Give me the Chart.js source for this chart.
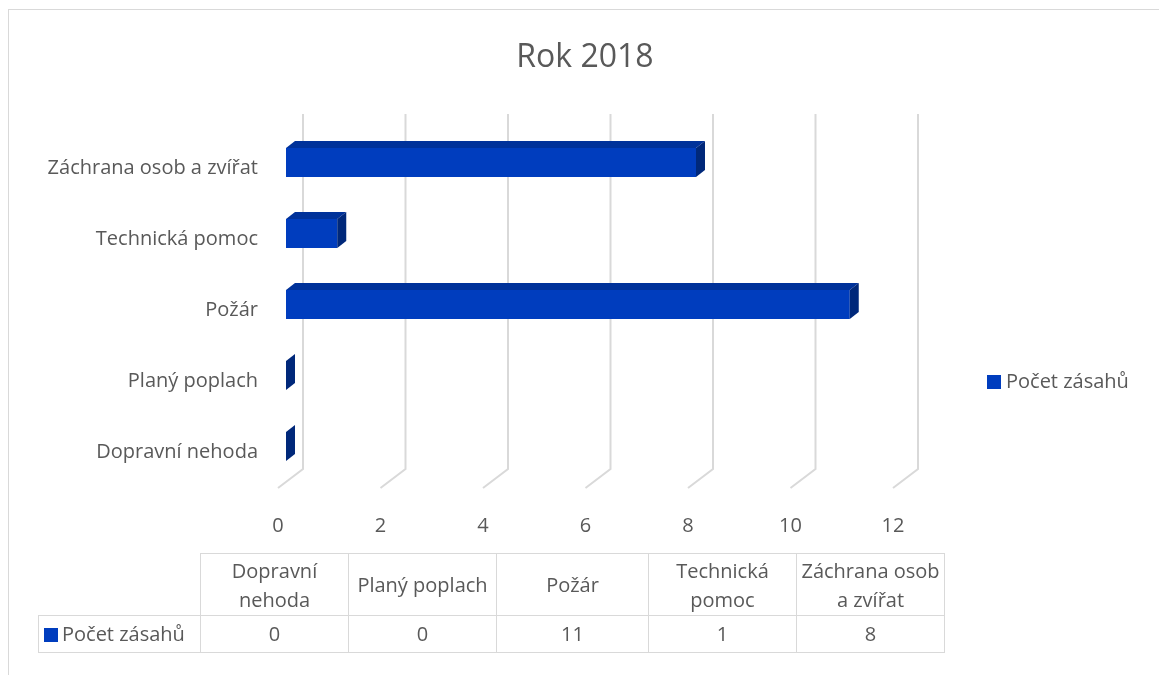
<!DOCTYPE html>
<html lang="cs">
<head>
<meta charset="UTF-8" />
<title>Rok 2018</title>
<script src="https://cdn.jsdelivr.net/npm/chart.js"></script>
<style>
  body { margin: 0; background: #fff; font-family: "Open Sans", sans-serif; color: #595959; }
  #wrap { position: relative; width: 1159px; height: 675px; overflow: hidden; }
  #frame { position: absolute; left: 8px; top: 9px; width: 1200px; height: 720px; border: 1px solid #d9d9d9; }
  #chart { position: absolute; left: 0; top: 0; }
  #title { position: absolute; left: 0; width: 1170px; top: 34px; text-align: center; font-size: 32px; line-height: 42px; }
  #legend { position: absolute; left: 987px; top: 367px; font-size: 20px; line-height: 28px; white-space: nowrap; }
  .box { display: inline-block; width: 14px; height: 14px; background: #003dbe; margin-right: 5px; vertical-align: -1px; }
  #table { position: absolute; left: 38px; top: 553px; border-collapse: collapse; table-layout: fixed; font-size: 20px; }
  #table td { border: 1px solid #d9d9d9; text-align: center; padding: 0 3px; }
  #table tr.head td { height: 61px; line-height: 29px; }
  #table tr.vals td { height: 36px; line-height: 28px; }
  #table td.empty { border-top: none; border-left: none; }
  #table td.name { text-align: left; padding-left: 5px; white-space: nowrap; }
  #table td.name .box { margin-right: 4px; }
</style>
</head>
<body>
<div id="wrap">
  <div id="frame"></div>
  <canvas id="chart" width="1159" height="675"></canvas>
  <div id="title"></div>
  <div id="legend"></div>
  <table id="table"></table>
</div>
<script>
  const title = "Rok 2018";
  const categories = ["Dopravní nehoda", "Planý poplach", "Požár", "Technická pomoc", "Záchrana osob a zvířat"];
  const seriesName = "Počet zásahů";
  const zasahy = [0, 0, 11, 1, 8];
  const xTicks = [0, 2, 4, 6, 8, 10, 12];

  const textColor = "#595959";
  const frontColor = "#003dbe";
  const topColor = "#00329a";
  const sideColor = "#00287a";

  // 3D look: gridlines go back into the depth, bars sit a bit behind the front plane
  const depth3d = {
    id: "depth3d",
    beforeDatasetsDraw(chart) {
      const { ctx, chartArea: a, scales: { x } } = chart;
      ctx.save();
      ctx.strokeStyle = "#d9d9d9";
      ctx.lineWidth = 2;
      x.ticks.forEach((t) => {
        const px = x.getPixelForValue(t.value);
        ctx.beginPath();
        ctx.moveTo(px, a.bottom);
        ctx.lineTo(px + 25, a.bottom - 19);
        ctx.lineTo(px + 25, a.top - 19);
        ctx.stroke();
      });
      ctx.restore();
      ctx.save();
      ctx.translate(8, -6);
    },
    afterDatasetsDraw(chart) {
      const { ctx } = chart;
      chart.getDatasetMeta(0).data.forEach((bar) => {
        const { x, y, base, height } = bar.getProps(["x", "y", "base", "height"], true);
        const top = y - height / 2;
        const bot = y + height / 2;
        ctx.fillStyle = topColor;
        ctx.beginPath();
        ctx.moveTo(base, top);
        ctx.lineTo(base + 9, top - 7);
        ctx.lineTo(x + 9, top - 7);
        ctx.lineTo(x, top);
        ctx.closePath();
        ctx.fill();
        ctx.fillStyle = sideColor;
        ctx.beginPath();
        ctx.moveTo(x, top);
        ctx.lineTo(x + 9, top - 7);
        ctx.lineTo(x + 9, bot - 7);
        ctx.lineTo(x, bot);
        ctx.closePath();
        ctx.fill();
      });
      ctx.restore();
    }
  };

  const font = { family: "Open Sans", size: 20 };

  new Chart(document.getElementById("chart"), {
    type: "bar",
    data: {
      labels: categories,
      datasets: [{
        label: seriesName,
        data: zasahy,
        backgroundColor: frontColor,
        borderWidth: 0,
        barPercentage: 0.41,
        categoryPercentage: 1
      }]
    },
    options: {
      indexAxis: "y",
      responsive: false,
      animation: false,
      devicePixelRatio: 1,
      layout: { padding: { left: 0, right: 1159 - 893, top: 133, bottom: 0 } },
      plugins: { legend: { display: false }, title: { display: false }, tooltip: { enabled: false } },
      scales: {
        x: {
          min: xTicks[0],
          max: xTicks[xTicks.length - 1],
          ticks: { stepSize: xTicks[1] - xTicks[0], color: textColor, font: font, padding: 18 },
          grid: { display: false },
          border: { display: false },
          afterFit(s) { s.height = 675 - 488; s.paddingLeft = 0; s.paddingRight = 0; }
        },
        y: {
          reverse: true,
          ticks: { color: textColor, font: font, padding: 12 },
          grid: { display: false },
          border: { display: false },
          afterFit(s) { s.width = 278; }
        }
      }
    },
    plugins: [depth3d]
  });

  // title, legend and data table as text
  document.getElementById("title").textContent = title;
  document.getElementById("legend").innerHTML = '<span class="box"></span>' + seriesName;

  const widths = [162, 148, 148, 152, 148, 148];
  const table = document.getElementById("table");
  const cols = document.createElement("colgroup");
  widths.forEach((w) => {
    const c = document.createElement("col");
    c.style.width = w + "px";
    cols.appendChild(c);
  });
  table.appendChild(cols);
  const head = table.insertRow();
  head.className = "head";
  head.insertCell().className = "empty";
  categories.forEach((c) => { head.insertCell().textContent = c; });
  const vals = table.insertRow();
  vals.className = "vals";
  const nameCell = vals.insertCell();
  nameCell.className = "name";
  nameCell.innerHTML = '<span class="box"></span>' + seriesName;
  zasahy.forEach((v) => { vals.insertCell().textContent = v; });
</script>
</body>
</html>
